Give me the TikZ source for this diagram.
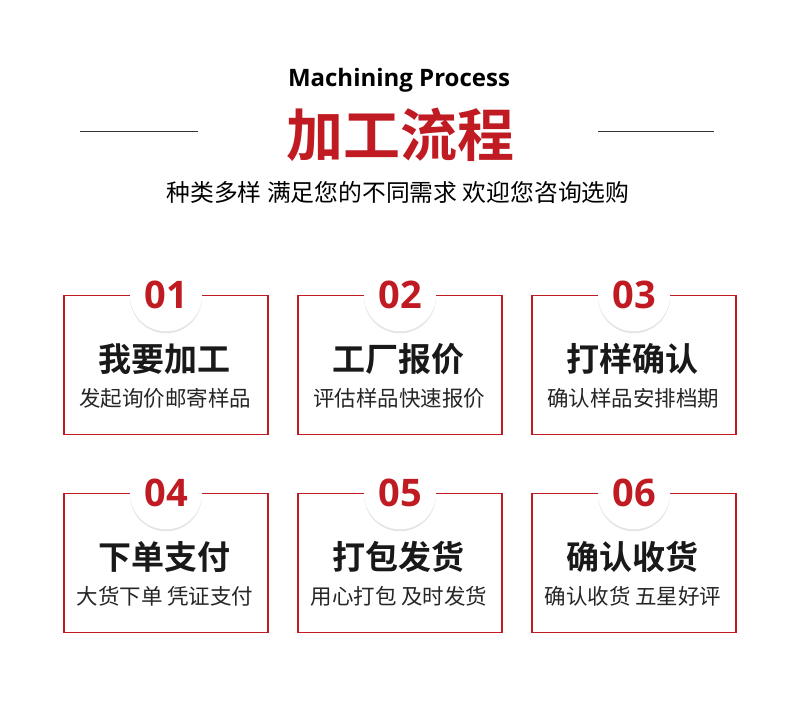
\documentclass[tikz,border=0pt]{standalone}
\usepackage{fontspec}
\setmainfont{Noto Sans}
\newfontfamily\latb{Open Sans Bold}
\newfontfamily\cjk{Noto Sans CJK SC}
\newfontfamily\cjkb{Noto Sans CJK SC Bold}
\usetikzlibrary{shadows}
\definecolor{myred}{HTML}{C01B22}
\tikzset{
 stepbox/.style={draw=myred,line width=1.5pt,minimum width=204pt,minimum height=139pt,inner sep=0pt},
 numcirc/.style={circle,fill=white,minimum size=72pt,inner sep=0pt,drop shadow={opacity=0.2,shadow xshift=0pt,shadow yshift=-2pt},text=myred,font=\latb\fontsize{38}{38}\selectfont},
 btitle/.style={font=\cjkb\fontsize{33}{33}\selectfont,text=black!90},
 bsub/.style={font=\cjk\fontsize{21.5}{21.5}\selectfont,text=black!85},
}
\begin{document}
\begin{tikzpicture}[x=1pt,y=-1pt]
\useasboundingbox[fill=white] (0,0) rectangle (800,702);
\node[font=\latb\fontsize{24}{24}\selectfont] (t1) at (399,80) {Machining Process};
\node[font=\cjkb\fontsize{57}{57}\selectfont,text=myred] (t2) at (400,135) {加工流程};
\coordinate (l1a) at (80,131); \coordinate (l1b) at (198,131);
\coordinate (l2a) at (598,131); \coordinate (l2b) at (714,131);
\draw[line width=0.8pt,black!80] (l1a) -- (l1b);
\draw[line width=0.8pt,black!80] (l2a) -- (l2b);
\node[font=\cjk\fontsize{23.8}{23.8}\selectfont] (t3) at (398,193) {种类多样 满足您的不同需求 欢迎您咨询选购};
\foreach \i/\x/\y/\n/\a/\b in {
 1/166/365/01/我要加工/发起询价邮寄样品,
 2/400/365/02/工厂报价/评估样品快速报价,
 3/634/365/03/打样确认/确认样品安排档期,
 4/166/563/04/下单支付/大货下单 凭证支付,
 5/400/563/05/打包发货/用心打包 及时发货,
 6/634/563/06/确认收货/确认收货 五星好评}{
 \node[stepbox] (b\i) at (\x,\y) {};
 \node[numcirc] (c\i) at ([yshift=-0.5pt]b\i.north) {\n};
 \node[btitle] (h\i) at (\x-2,\y-6) {\a};
 \node[bsub] (s\i) at (\x-1,\y+33) {\b};
}
\end{tikzpicture}
\end{document}
